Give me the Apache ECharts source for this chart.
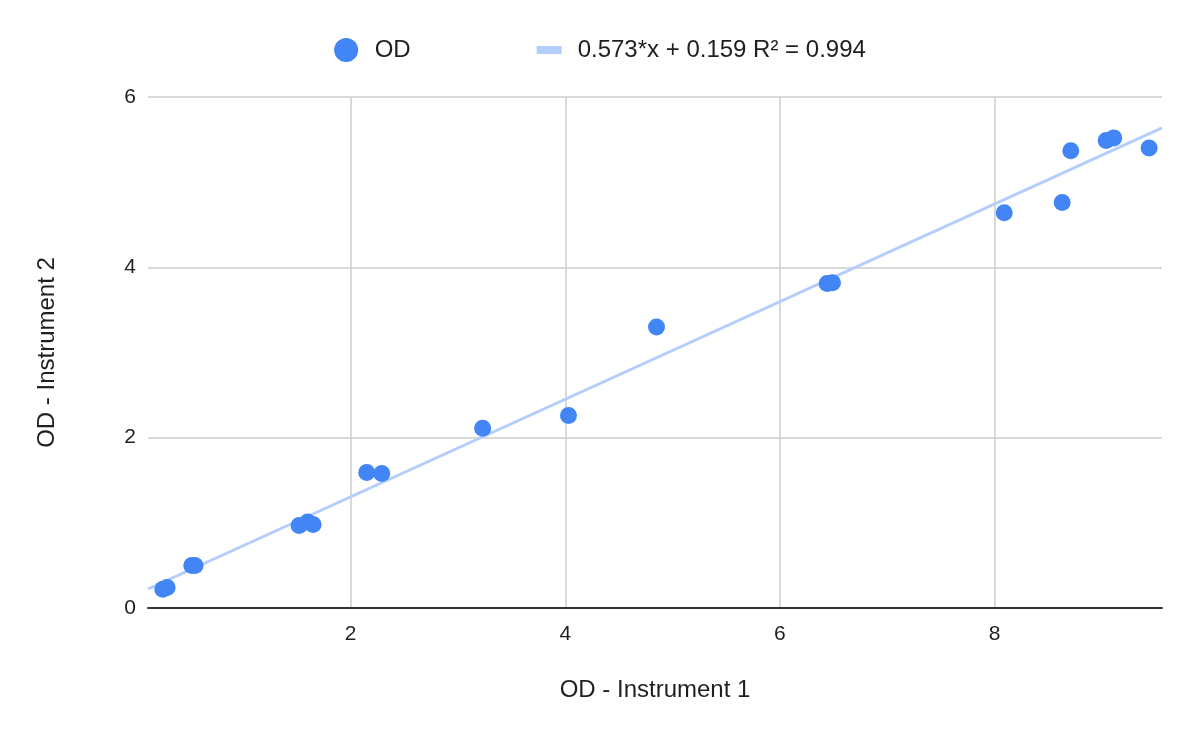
<!DOCTYPE html>
<html>
<head>
<meta charset="utf-8">
<title>OD - Instrument 1 vs Instrument 2</title>
<script src="https://cdn.jsdelivr.net/npm/echarts@6/dist/echarts.min.js"></script>
<style>
  html, body { margin: 0; padding: 0; background: #fff; }
  #chart { width: 1200px; height: 742px; }
</style>
</head>
<body>
<div id="chart"></div>
<script>
// OD readings, instrument 1 (x) vs instrument 2 (y)
const odInstrument1 = [0.25, 0.29, 0.52, 0.55, 1.52, 1.60, 1.65, 2.15, 2.29, 3.23, 4.03, 4.85, 6.44, 6.49, 8.09, 8.63, 8.71, 9.04, 9.11, 9.44];
const odInstrument2 = [0.22, 0.24, 0.50, 0.50, 0.97, 1.01, 0.98, 1.59, 1.58, 2.11, 2.26, 3.30, 3.81, 3.82, 4.64, 4.76, 5.37, 5.49, 5.52, 5.40];

// linear trendline as given in the legend
const trendSlope = 0.573;
const trendIntercept = 0.159;
const trendLabel = '0.573*x + 0.159 R² = 0.994';

// axis range
const xMin = 0.112;
const xMax = 9.56;
const yTicks = [0, 2, 4, 6];

const pointColor = '#4285f4';
const trendColor = '#b3cefb';
const textColor = '#1f1f1f';
const fontFamily = '"Liberation Sans", Arial, sans-serif';

const scatterData = odInstrument1.map((x, i) => [x, odInstrument2[i]]);
const trendData = [xMin, xMax].map(x => [x, trendSlope * x + trendIntercept]);

const chart = echarts.init(document.getElementById('chart'));

const option = {
  animation: false,
  textStyle: { fontFamily: fontFamily, color: textColor },
  legend: {
    top: 33,
    left: 'center',
    itemWidth: 25,
    itemHeight: 24,
    itemGap: 126,
    textStyle: { fontSize: 24, color: textColor, fontFamily: fontFamily, padding: [0, 0, 0, 11] },
    data: [
      { name: 'OD', icon: 'circle' },
      { name: trendLabel, icon: 'path://M0 0H25V8H0Z' }
    ]
  },
  grid: {
    left: 148,
    right: 38,
    top: 97,
    bottom: 134,
    containLabel: false
  },
  xAxis: {
    type: 'value',
    min: xMin,
    max: xMax,
    minInterval: 2,
    maxInterval: 2,
    name: 'OD - Instrument 1',
    nameLocation: 'middle',
    nameGap: 70,
    nameTextStyle: { fontSize: 24, color: textColor },
    axisLine: { show: true, lineStyle: { color: '#333', width: 2 } },
    axisTick: { show: false },
    axisLabel: {
      fontSize: 21,
      color: textColor,
      margin: 16,
      showMinLabel: false,
      showMaxLabel: false
    },
    splitLine: {
      show: true,
      showMinLine: false,
      showMaxLine: false,
      lineStyle: { color: '#cccccc', width: 1.5 }
    }
  },
  yAxis: {
    type: 'value',
    min: yTicks[0],
    max: yTicks[yTicks.length - 1],
    interval: 2,
    name: 'OD - Instrument 2',
    nameLocation: 'middle',
    nameGap: 89,
    nameRotate: 90,
    nameTextStyle: { fontSize: 24, color: textColor },
    axisLine: { show: false },
    axisTick: { show: false },
    axisLabel: { fontSize: 21, color: textColor, margin: 12 },
    splitLine: { show: true, lineStyle: { color: '#cccccc', width: 1.5 } }
  },
  series: [
    {
      name: trendLabel,
      type: 'line',
      data: trendData,
      showSymbol: false,
      symbol: 'none',
      color: trendColor,
      lineStyle: { color: trendColor, width: 3 },
      z: 1,
      silent: true
    },
    {
      name: 'OD',
      type: 'scatter',
      data: scatterData,
      symbolSize: 17,
      color: pointColor,
      itemStyle: { color: pointColor, opacity: 1 },
      z: 3
    }
  ]
};

chart.setOption(option);
</script>
</body>
</html>
